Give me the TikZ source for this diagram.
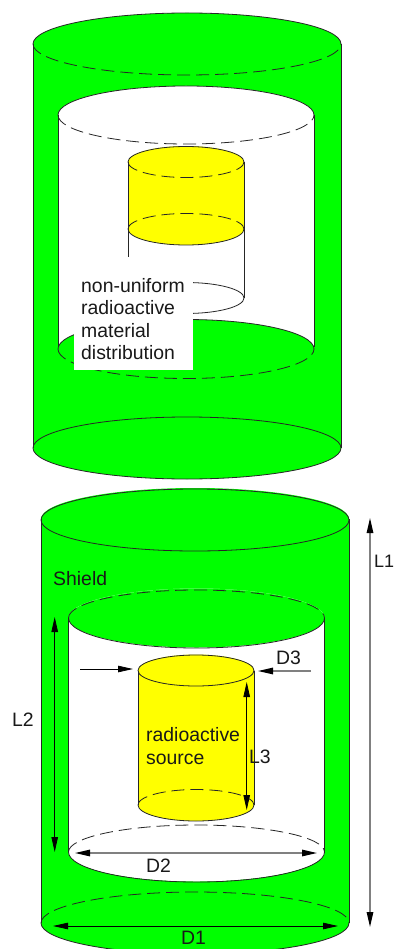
\documentclass[tikz,border=0pt]{standalone}
\usepackage{fontspec}
\setmainfont{Liberation Sans}
\usetikzlibrary{arrows.meta}
\definecolor{shieldgreen}{RGB}{0,255,0}
\definecolor{srcyellow}{RGB}{255,255,0}
\newcommand{\upperarc}[4]{({#1-#3},{-#2}) arc[start angle=180,end angle=0,x radius=#3pt,y radius=#4pt]}
\newcommand{\lowerarc}[4]{({#1-#3},{-#2}) arc[start angle=180,end angle=360,x radius=#3pt,y radius=#4pt]}
% fill body between two ellipses, bulging by both caps
\newcommand{\cylfill}[6]{% cx, ytop, ybot, rx, ry, colour
  \fill[#6] ({#1-#4},{-#2}) arc[start angle=180,end angle=0,x radius=#4pt,y radius=#5pt]
    -- ({#1+#4},{-#3}) arc[start angle=360,end angle=180,x radius=#4pt,y radius=#5pt] -- cycle;}
\newcommand{\walls}[4]{% cx, ytop, ybot, rx
  \draw[edge] ({#1-#4},{-#2}) -- ({#1-#4},{-#3}) ({#1+#4},{-#2}) -- ({#1+#4},{-#3});}
\tikzset{
  edge/.style={draw=black!85,line width=0.8pt},
  hidden/.style={draw=black!85,line width=0.8pt,dash pattern=on 13pt off 6pt},
  dim/.style={black,line width=0.8pt,{Triangle[length=15pt,width=6.5pt]}-{Triangle[length=15pt,width=6.5pt]}},
  dimgray/.style={draw=black!50,line width=1.3pt,{Triangle[length=15pt,width=6.5pt,black]}-{Triangle[length=15pt,width=6.5pt,black]}},
  pointer/.style={black,line width=0.8pt,-{Triangle[length=15pt,width=6.5pt]}},
  pointergray/.style={draw=black!50,line width=1.3pt,-{Triangle[length=15pt,width=6.5pt,black]}},
  label/.style={font=\fontsize{19.4}{22.3}\selectfont,inner sep=0pt,text=black!90,align=left}
}
\begin{document}
\begin{tikzpicture}[x=1pt,y=1pt]
\clip (0,0) rectangle (395,-949);
\useasboundingbox (0,0) rectangle (395,-949);
\fill[white] (0,0) rectangle (395,-949);

% ---- upper figure ----
\cylfill{187}{44}{448}{154}{31}{shieldgreen}
\cylfill{186}{115}{347}{128}{29}{white}
\fill[shieldgreen] (186,-349) ellipse [x radius=128pt,y radius=29.5pt];
\cylfill{186}{162}{229}{58}{16}{srcyellow}
\walls{187}{44}{448}{154}
\walls{186}{115}{347}{128}
\draw[edge] \upperarc{187}{44}{154}{31};
\draw[hidden] \lowerarc{187}{44}{154}{31};
\draw[edge] (187,-448) ellipse [x radius=154pt,y radius=31pt];
\draw[edge] \upperarc{186}{115}{128}{29};
\draw[hidden] \lowerarc{186}{115}{128}{29};
\draw[edge] \upperarc{186}{349}{128}{29.5};
\draw[hidden] \lowerarc{186}{349}{128}{29.5};
\draw[edge] \upperarc{186}{162}{58}{15.5};
\draw[hidden] \lowerarc{186}{162}{58}{15.5};
\draw[hidden] \upperarc{186}{229}{58}{15.5};
\draw[edge] \lowerarc{186}{229}{58}{16};
\walls{186}{162}{229}{58}
\draw[edge] (128,-229) -- (128,-265) (244,-229) -- (244,-298);
\draw[edge] (186,-298) ellipse [x radius=58pt,y radius=15.5pt];
\fill[white] (74,-257) rectangle (193,-370);
\node[label,anchor=west] (nonuniform) at (81,-319) {non-uniform\\radioactive\\material\\distribution};

% ---- lower figure ----
\cylfill{195}{519}{923}{154}{31}{shieldgreen}
\cylfill{196.5}{618}{852}{128}{29.5}{white}
\fill[shieldgreen] (196.5,-618) ellipse [x radius=128pt,y radius=29.5pt];
\cylfill{196}{670.5}{805}{58}{16}{srcyellow}
\walls{195}{519}{923}{154}
\walls{196.5}{618}{852}{128}
\draw[edge] (195,-520) ellipse [x radius=154pt,y radius=31pt];
\draw[hidden] \upperarc{195}{923}{154}{31};
\draw[edge] \lowerarc{195}{923}{154}{31};
\draw[hidden] \upperarc{196.5}{618}{128}{28};
\draw[edge] \lowerarc{196.5}{618}{128}{30};
\draw[hidden] \upperarc{196.5}{852}{128}{27};
\draw[edge] \lowerarc{196.5}{852}{128}{30};
\draw[edge] (196,-670.5) ellipse [x radius=58pt,y radius=15.5pt];
\draw[hidden] \upperarc{196}{805}{58}{15.5};
\draw[edge] \lowerarc{196}{805}{58}{16};
\walls{196}{670.5}{805}{58}

% dimension anchors
\coordinate (L1a) at (370,-518); \coordinate (L1b) at (370,-927);
\coordinate (L2a) at (54.7,-617); \coordinate (L2b) at (54.7,-852);
\coordinate (L3a) at (246.7,-682); \coordinate (L3b) at (246.7,-810);
\coordinate (D1a) at (53,-926); \coordinate (D1b) at (338,-926);
\coordinate (D2a) at (75,-853); \coordinate (D2b) at (317,-853);
\coordinate (D3a) at (80,-669); \coordinate (D3b) at (133,-669);
\coordinate (D3c) at (311,-671); \coordinate (D3d) at (258,-671);
\draw[dimgray] (L1a) -- (L1b);
\draw[dim] (L2a) -- (L2b);
\draw[dim] (L3a) -- (L3b);
\draw[dim] (D1a) -- (D1b);
\draw[dimgray] (D2a) -- (D2b);
\draw[pointer] (D3a) -- (D3b);
\draw[pointergray] (D3c) -- (D3d);

% labels
\node[label,anchor=west,font=\fontsize{18}{22}\selectfont] (l1) at (374,-561) {L1};
\node[label,anchor=west] (shield) at (53,-579) {Shield};
\node[label,anchor=west] (l2) at (12,-720) {L2};
\node[label,anchor=west] (l3) at (249,-757) {L3};
\node[label,anchor=west] (d1) at (181,-938) {D1};
\node[label,anchor=west] (d2) at (146,-866) {D2};
\node[label,anchor=west] (d3) at (276,-658) {D3};
\node[label,anchor=west] (source) at (146,-746) {radioactive\\source};
\end{tikzpicture}
\end{document}
